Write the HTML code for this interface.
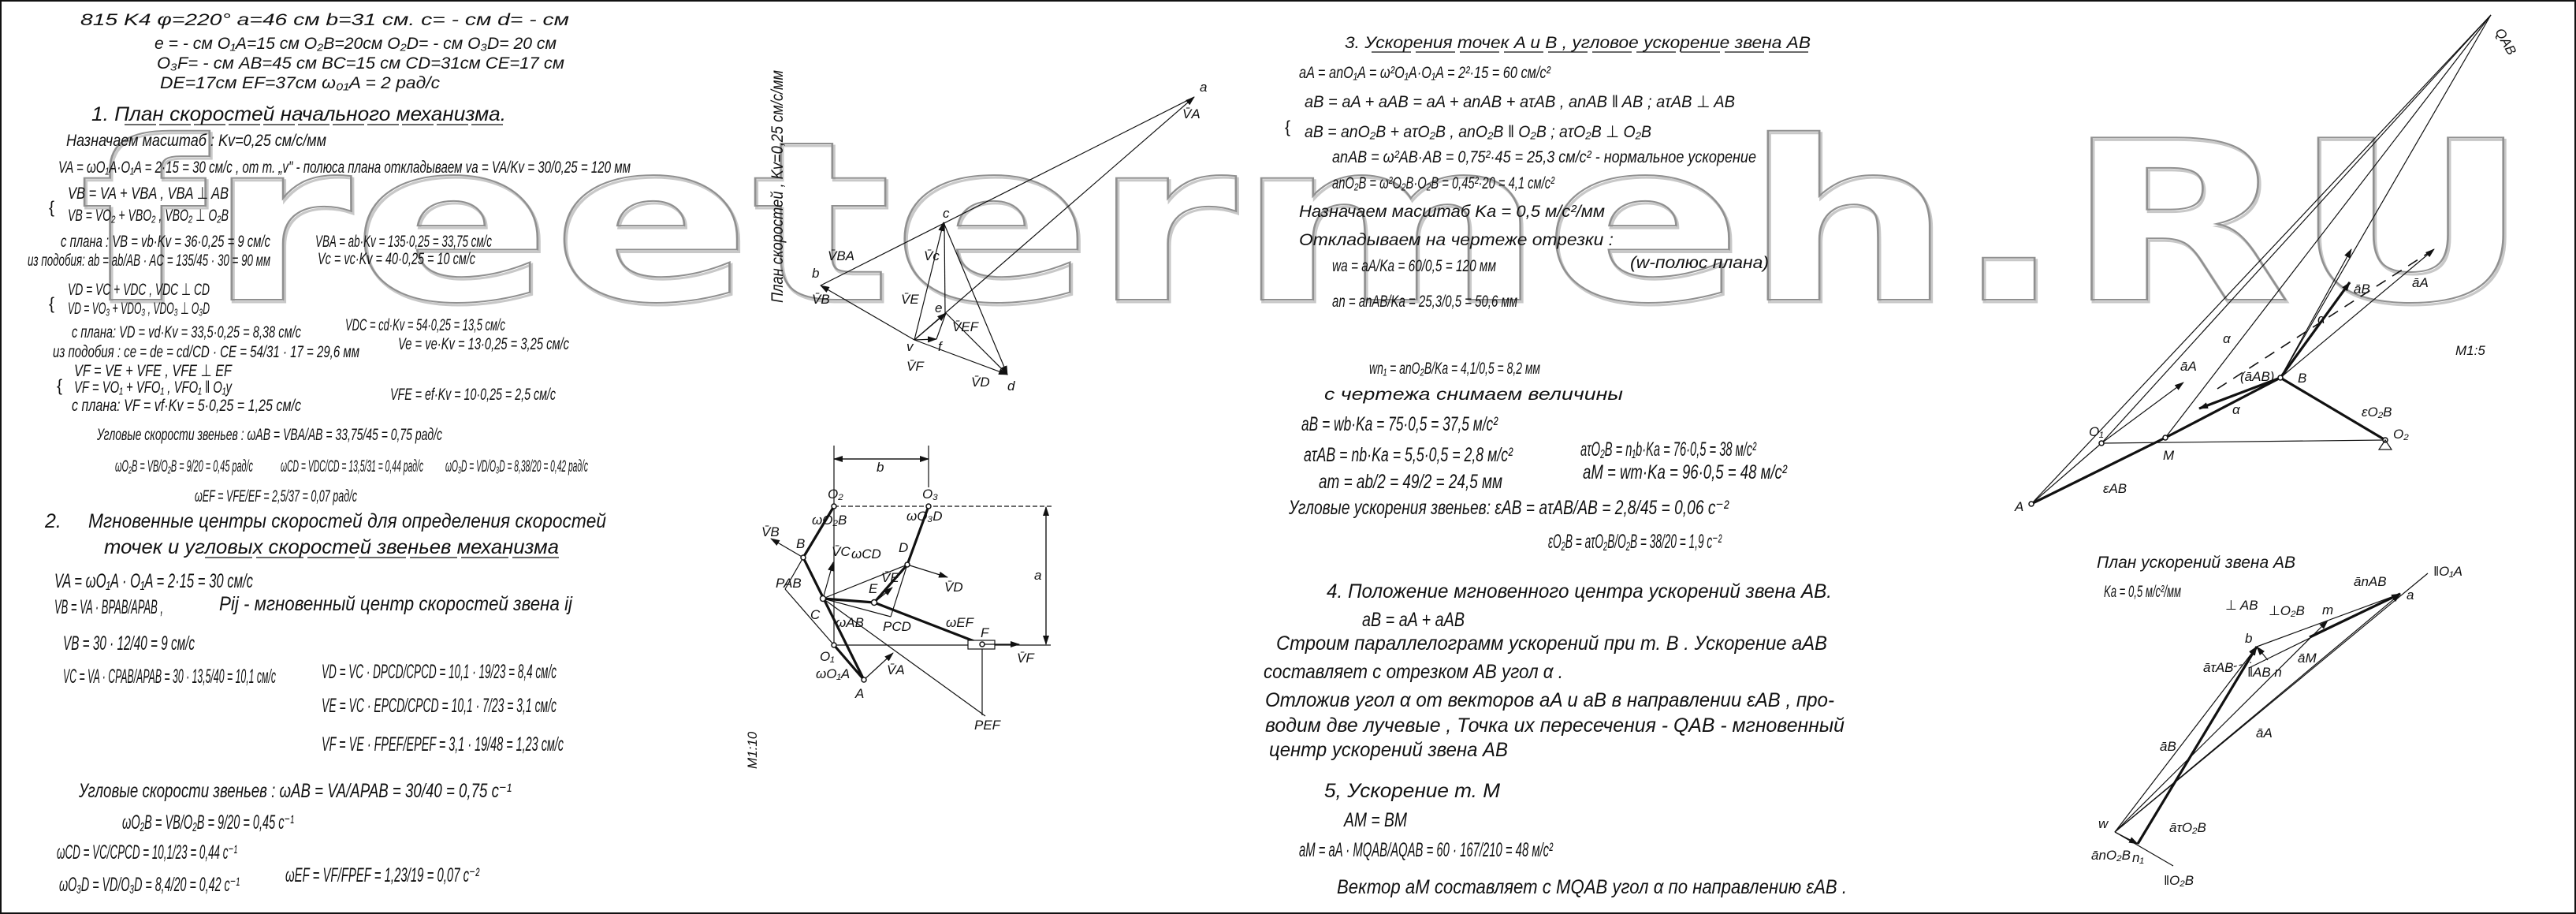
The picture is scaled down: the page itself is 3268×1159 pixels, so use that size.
<!DOCTYPE html>
<html><head><meta charset="utf-8">
<style>
html,body{margin:0;padding:0;background:#fff;}
svg{display:block;}
.t{font-family:"Liberation Sans","DejaVu Sans",sans-serif;font-style:italic;fill:#111;font-size:21px;}
.h{font-size:25px;}
.s{font-size:17px;}
.th{stroke:#111;stroke-width:1.2;fill:none;}
.tk{stroke:#111;stroke-width:3.2;fill:none;}
.ds{stroke:#111;stroke-width:1.6;fill:none;stroke-dasharray:14 10;}
.wm{font-family:"DejaVu Sans","Liberation Sans",sans-serif;font-weight:bold;font-size:282px;fill:none;}
</style></head>
<body>
<svg width="3268" height="1159" viewBox="0 0 3268 1159" xmlns="http://www.w3.org/2000/svg">
<defs>
<marker id="ar" markerWidth="12" markerHeight="8" refX="11" refY="4" orient="auto" markerUnits="userSpaceOnUse">
<path d="M0,0 L12,4 L0,8 z" fill="#111"/></marker>
</defs>
<rect x="0" y="0" width="3268" height="1159" fill="#fff"/>
<rect x="1" y="1" width="3266" height="1157" fill="none" stroke="#111" stroke-width="2"/>

<!-- watermark -->
<text class="wm" x="102" y="383" textLength="3110" lengthAdjust="spacingAndGlyphs" stroke="#c8c8c8" stroke-width="3">freetermeh.RU</text>
<text class="wm" x="100" y="380" textLength="3110" lengthAdjust="spacingAndGlyphs" stroke="#909090" stroke-width="2">freetermeh.RU</text>

<!-- LEFT COLUMN -->
<text class="t" x="102" y="32" textLength="620" lengthAdjust="spacingAndGlyphs">815 K4      φ=220°      a=46 см      b=31 см.     c= - см      d= - см</text>
<text class="t" x="196" y="62" textLength="510" lengthAdjust="spacingAndGlyphs">e = - см     O₁A=15 см    O₂B=20см    O₂D= - см   O₃D= 20 см</text>
<text class="t" x="199" y="87" textLength="517" lengthAdjust="spacingAndGlyphs">O₃F= - см     AB=45 см    BC=15 см    CD=31см    CE=17 см</text>
<text class="t" x="203" y="112" textLength="355" lengthAdjust="spacingAndGlyphs">DE=17см      EF=37см       ω₀₁A = 2 рад/с</text>
<text class="t h" x="116" y="153" textLength="526" lengthAdjust="spacingAndGlyphs">1.   План скоростей  начального  механизма.</text>
<line class="th" x1="158" y1="158" x2="640" y2="158" stroke-dasharray="40 4"/>
<text class="t" x="84" y="185" textLength="330" lengthAdjust="spacingAndGlyphs">Назначаем  масштаб :  Kv=0,25 см/с/мм</text>
<text class="t" x="74" y="219" textLength="726" lengthAdjust="spacingAndGlyphs">VA = ωO₁A·O₁A = 2·15 = 30 см/с ,  от т. „v" - полюса плана откладываем va = VA/Kv = 30/0,25 = 120 мм</text>
<text class="t" x="62" y="270" font-size="52" style="font-style:normal">{</text>
<text class="t" x="86" y="252" textLength="204" lengthAdjust="spacingAndGlyphs">VB = VA + VBA ,   VBA ⊥ AB</text>
<text class="t" x="86" y="280" textLength="204" lengthAdjust="spacingAndGlyphs">VB = VO₂ + VBO₂ ,  VBO₂ ⊥ O₂B</text>
<text class="t" x="77" y="313" textLength="266" lengthAdjust="spacingAndGlyphs">с плана : VB = vb·Kv = 36·0,25 = 9 см/с</text>
<text class="t" x="400" y="313" textLength="224" lengthAdjust="spacingAndGlyphs">VBA = ab·Kv = 135·0,25 = 33,75 см/с</text>
<text class="t" x="35" y="337" textLength="308" lengthAdjust="spacingAndGlyphs">из подобия: ab = ab/AB · AC = 135/45 · 30 = 90 мм</text>
<text class="t" x="403" y="335" textLength="200" lengthAdjust="spacingAndGlyphs">Vc = vc·Kv = 40·0,25 = 10 см/с</text>
<text class="t" x="62" y="392" font-size="52" style="font-style:normal">{</text>
<text class="t" x="86" y="374" textLength="180" lengthAdjust="spacingAndGlyphs">VD = VC + VDC ,   VDC ⊥ CD</text>
<text class="t" x="86" y="398" textLength="180" lengthAdjust="spacingAndGlyphs">VD = VO₃ + VDO₃ ,  VDO₃ ⊥ O₃D</text>
<text class="t" x="438" y="419" textLength="203" lengthAdjust="spacingAndGlyphs">VDC = cd·Kv = 54·0,25 = 13,5 см/с</text>
<text class="t" x="91" y="428" textLength="291" lengthAdjust="spacingAndGlyphs">с плана:  VD = vd·Kv = 33,5·0,25 = 8,38 см/с</text>
<text class="t" x="505" y="443" textLength="217" lengthAdjust="spacingAndGlyphs">Ve = ve·Kv = 13·0,25 = 3,25 см/с</text>
<text class="t" x="67" y="453" textLength="389" lengthAdjust="spacingAndGlyphs">из подобия :  ce = de = cd/CD · CE = 54/31 · 17 = 29,6 мм</text>
<text class="t" x="72" y="496" font-size="52" style="font-style:normal">{</text>
<text class="t" x="94" y="477" textLength="200" lengthAdjust="spacingAndGlyphs">VF = VE + VFE ,   VFE ⊥ EF</text>
<text class="t" x="94" y="498" textLength="200" lengthAdjust="spacingAndGlyphs">VF = VO₁ + VFO₁ ,  VFO₁ ‖ O₁y</text>
<text class="t" x="495" y="507" textLength="210" lengthAdjust="spacingAndGlyphs">VFE = ef·Kv = 10·0,25 = 2,5 см/с</text>
<text class="t" x="91" y="521" textLength="291" lengthAdjust="spacingAndGlyphs">с плана:  VF = vf·Kv = 5·0,25 = 1,25 см/с</text>
<text class="t" x="123" y="558" textLength="438" lengthAdjust="spacingAndGlyphs">Угловые скорости звеньев : ωAB = VBA/AB = 33,75/45 = 0,75 рад/с</text>
<text class="t" x="146" y="598" textLength="175" lengthAdjust="spacingAndGlyphs">ωO₂B = VB/O₂B = 9/20 = 0,45 рад/с</text>
<text class="t" x="356" y="598" textLength="181" lengthAdjust="spacingAndGlyphs">ωCD = VDC/CD = 13,5/31 = 0,44 рад/с</text>
<text class="t" x="565" y="598" textLength="181" lengthAdjust="spacingAndGlyphs">ωO₃D = VD/O₃D = 8,38/20 = 0,42 рад/с</text>
<text class="t" x="247" y="636" textLength="206" lengthAdjust="spacingAndGlyphs">ωEF = VFE/EF = 2,5/37 = 0,07 рад/с</text>
<text class="t h" x="57" y="669">2.</text>
<text class="t h" x="112" y="669" textLength="657" lengthAdjust="spacingAndGlyphs">Мгновенные центры скоростей для определения скоростей</text>
<text class="t h" x="132" y="702" textLength="577" lengthAdjust="spacingAndGlyphs">точек   и   угловых скоростей звеньев механизма</text>
<line class="th" x1="260" y1="707" x2="709" y2="707" stroke-dasharray="60 5"/>
<text class="t h" x="69" y="745" textLength="252" lengthAdjust="spacingAndGlyphs">VA = ωO₁A · O₁A = 2·15 = 30 см/с</text>
<text class="t h" x="69" y="778" textLength="138" lengthAdjust="spacingAndGlyphs">VB = VA · BPAB/APAB ,</text>
<text class="t h" x="278" y="774" textLength="448" lengthAdjust="spacingAndGlyphs">Pij - мгновенный центр скоростей звена ij</text>
<text class="t h" x="80" y="824" textLength="167" lengthAdjust="spacingAndGlyphs">VB = 30 · 12/40 = 9 см/с</text>
<text class="t h" x="80" y="866" textLength="270" lengthAdjust="spacingAndGlyphs">VC = VA · CPAB/APAB = 30 · 13,5/40 = 10,1 см/с</text>
<text class="t h" x="408" y="860" textLength="298" lengthAdjust="spacingAndGlyphs">VD = VC · DPCD/CPCD = 10,1 · 19/23 = 8,4 см/с</text>
<text class="t h" x="408" y="903" textLength="298" lengthAdjust="spacingAndGlyphs">VE = VC · EPCD/CPCD = 10,1 · 7/23 = 3,1 см/с</text>
<text class="t h" x="408" y="952" textLength="307" lengthAdjust="spacingAndGlyphs">VF = VE · FPEF/EPEF = 3,1 · 19/48 = 1,23 см/с</text>
<text class="t h" x="100" y="1011" textLength="549" lengthAdjust="spacingAndGlyphs">Угловые скорости звеньев : ωAB = VA/APAB = 30/40 = 0,75 c⁻¹</text>
<text class="t h" x="155" y="1051" textLength="218" lengthAdjust="spacingAndGlyphs">ωO₂B = VB/O₂B = 9/20 = 0,45 c⁻¹</text>
<text class="t h" x="72" y="1089" textLength="229" lengthAdjust="spacingAndGlyphs">ωCD = VC/CPCD = 10,1/23 = 0,44 c⁻¹</text>
<text class="t h" x="362" y="1118" textLength="246" lengthAdjust="spacingAndGlyphs">ωEF = VF/FPEF = 1,23/19 = 0,07 c⁻²</text>
<text class="t h" x="75" y="1130" textLength="229" lengthAdjust="spacingAndGlyphs">ωO₃D = VD/O₃D = 8,4/20 = 0,42 c⁻¹</text>

<!-- VELOCITY PLAN -->
<text class="t" transform="translate(993,384) rotate(-90)" textLength="295" lengthAdjust="spacingAndGlyphs">План   скоростей ,     Kv=0,25 см/с/мм</text>
<line class="th" x1="1041" y1="362" x2="1515" y2="123"/>
<line class="th" x1="1160" y1="431" x2="1515" y2="123" marker-end="url(#ar)"/>
<line class="th" x1="1160" y1="431" x2="1041" y2="362" marker-end="url(#ar)"/>
<line class="th" x1="1160" y1="431" x2="1278" y2="475" marker-end="url(#ar)"/>
<line class="th" x1="1160" y1="431" x2="1197" y2="282" marker-end="url(#ar)"/>
<line class="th" x1="1197" y1="282" x2="1278" y2="475" marker-end="url(#ar)"/>
<line class="th" x1="1198" y1="282" x2="1199" y2="397"/>
<line class="th" x1="1160" y1="431" x2="1200" y2="397" marker-end="url(#ar)" stroke-width="2"/>
<line class="th" x1="1200" y1="397" x2="1278" y2="475"/>
<line class="th" x1="1160" y1="431" x2="1188" y2="430" marker-end="url(#ar)" stroke-width="2"/>
<line class="th" x1="1188" y1="430" x2="1200" y2="397"/>
<text class="t s" x="1522" y="116">a</text>
<text class="t s" x="1500" y="150">V̄A</text>
<text class="t s" x="1196" y="276">c</text>
<text class="t s" x="1172" y="330">V̄c</text>
<text class="t s" x="1143" y="385">V̄E</text>
<text class="t s" x="1186" y="396">e</text>
<text class="t s" x="1208" y="420">V̄EF</text>
<text class="t s" x="1190" y="445">f</text>
<text class="t s" x="1150" y="445">v</text>
<text class="t s" x="1150" y="470">V̄F</text>
<text class="t s" x="1232" y="490">V̄D</text>
<text class="t s" x="1278" y="495">d</text>
<text class="t s" x="1030" y="352">b</text>
<text class="t s" x="1030" y="385">V̄B</text>
<text class="t s" x="1050" y="330">V̄BA</text>

<!-- MECHANISM -->
<line class="th" x1="1058" y1="565" x2="1058" y2="818"/>
<line class="th" x1="1178" y1="565" x2="1178" y2="618"/>
<line class="th" x1="1058" y1="582" x2="1178" y2="582" marker-end="url(#ar)"/>
<line class="th" x1="1178" y1="582" x2="1058" y2="582" marker-end="url(#ar)"/>
<text class="t s" x="1112" y="598">b</text>
<line class="th" x1="1058" y1="642" x2="1337" y2="642" stroke-dasharray="6 3"/>
<line class="th" x1="1058" y1="818" x2="1333" y2="818"/>
<line class="th" x1="1327" y1="643" x2="1327" y2="817" marker-end="url(#ar)"/>
<line class="th" x1="1327" y1="817" x2="1327" y2="643" marker-end="url(#ar)"/>
<text class="t s" x="1312" y="735">a</text>
<line class="tk" x1="1058" y1="642" x2="1019" y2="707"/>
<line class="tk" x1="1019" y1="707" x2="1096" y2="862"/>
<line class="tk" x1="1058" y1="818" x2="1096" y2="862"/>
<line class="tk" x1="1044" y1="759" x2="1109" y2="764"/>
<line class="tk" x1="1109" y1="764" x2="1246" y2="817"/>
<line class="tk" x1="1109" y1="764" x2="1151" y2="716"/>
<line class="tk" x1="1151" y1="716" x2="1178" y2="642"/>
<line class="th" x1="1044" y1="759" x2="1151" y2="716"/>
<line class="th" x1="996" y1="747" x2="1019" y2="707"/>
<line class="th" x1="996" y1="747" x2="1058" y2="818"/>
<line class="th" x1="1130" y1="782" x2="1151" y2="716"/>
<line class="th" x1="1044" y1="759" x2="1130" y2="782"/>
<line class="th" x1="1044" y1="759" x2="1250" y2="908"/>
<line class="th" x1="1246" y1="822" x2="1246" y2="907"/>
<rect x="1228" y="812" width="34" height="11" fill="#fff" stroke="#111" stroke-width="1.2"/>
<line class="th" x1="1019" y1="707" x2="978" y2="683" marker-end="url(#ar)"/>
<line class="th" x1="1044" y1="759" x2="1057" y2="713" marker-end="url(#ar)"/>
<line class="th" x1="1096" y1="862" x2="1133" y2="828" marker-end="url(#ar)"/>
<line class="th" x1="1151" y1="716" x2="1202" y2="732" marker-end="url(#ar)"/>
<line class="th" x1="1109" y1="764" x2="1132" y2="745" marker-end="url(#ar)"/>
<line class="th" x1="1246" y1="817" x2="1293" y2="817" marker-end="url(#ar)" stroke-width="2"/>
<g fill="#fff" stroke="#111" stroke-width="1.5">
<circle cx="1058" cy="642" r="3"/><circle cx="1178" cy="642" r="3"/><circle cx="1019" cy="707" r="3"/>
<circle cx="1044" cy="759" r="3.5"/><circle cx="1109" cy="764" r="3.5"/><circle cx="1151" cy="716" r="3"/>
<circle cx="1058" cy="818" r="3"/><circle cx="1096" cy="862" r="3"/><circle cx="1246" cy="817" r="3"/>
</g>
<text class="t s" x="1050" y="632">O₂</text><text class="t s" x="1170" y="632">O₃</text>
<text class="t s" x="1010" y="695">B</text><text class="t s" x="1028" y="785">C</text>
<text class="t s" x="1140" y="700">D</text><text class="t s" x="1102" y="752">E</text>
<text class="t s" x="1040" y="838">O₁</text><text class="t s" x="1085" y="885">A</text>
<text class="t s" x="1244" y="808">F</text><text class="t s" x="984" y="745">PAB</text>
<text class="t s" x="1120" y="800">PCD</text><text class="t s" x="1236" y="925">PEF</text>
<text class="t s" x="966" y="680">V̄B</text><text class="t s" x="1055" y="705">V̄C</text>
<text class="t s" x="1118" y="738">V̄E</text><text class="t s" x="1198" y="750">V̄D</text>
<text class="t s" x="1290" y="840">V̄F</text><text class="t s" x="1125" y="855">V̄A</text>
<text class="t s" x="1030" y="665">ωO₂B</text><text class="t s" x="1080" y="708">ωCD</text>
<text class="t s" x="1150" y="660">ωO₃D</text><text class="t s" x="1060" y="795">ωAB</text>
<text class="t s" x="1200" y="795">ωEF</text><text class="t s" x="1035" y="860">ωO₁A</text>
<text class="t s" transform="translate(960,975) rotate(-90)">M1:10</text>

<!-- TOP MIDDLE TEXT -->
<text class="t" x="1706" y="61" textLength="591" lengthAdjust="spacingAndGlyphs">3.   Ускорения точек A и B , угловое ускорение звена AB</text>
<line class="th" x1="1740" y1="66" x2="2297" y2="66" stroke-dasharray="50 6"/>
<text class="t" x="1648" y="99" textLength="319" lengthAdjust="spacingAndGlyphs">aA = anO₁A = ω²O₁A·O₁A = 2²·15 = 60 см/с²</text>
<text class="t" x="1630" y="168" font-size="62" style="font-style:normal">{</text>
<text class="t" x="1655" y="136" textLength="546" lengthAdjust="spacingAndGlyphs">aB = aA + aAB = aA + anAB + aτAB ,   anAB ‖ AB ;  aτAB ⊥ AB</text>
<text class="t" x="1655" y="174" textLength="440" lengthAdjust="spacingAndGlyphs">aB = anO₂B + aτO₂B ,    anO₂B ‖ O₂B ;  aτO₂B ⊥ O₂B</text>
<text class="t" x="1690" y="206" textLength="538" lengthAdjust="spacingAndGlyphs">anAB = ω²AB·AB = 0,75²·45 = 25,3 см/с² - нормальное ускорение</text>
<text class="t" x="1690" y="239" textLength="282" lengthAdjust="spacingAndGlyphs">anO₂B = ω²O₂B·O₂B = 0,45²·20 = 4,1 см/с²</text>
<text class="t" x="1648" y="275" textLength="388" lengthAdjust="spacingAndGlyphs">Назначаем   масштаб   Ka = 0,5 м/с²/мм</text>
<text class="t" x="1648" y="311" textLength="399" lengthAdjust="spacingAndGlyphs">Откладываем   на чертеже   отрезки :</text>
<text class="t" x="1690" y="344" textLength="208" lengthAdjust="spacingAndGlyphs">wa = aA/Ka = 60/0,5 = 120 мм</text>
<text class="t" x="2068" y="340" textLength="176" lengthAdjust="spacingAndGlyphs">(w-полюс плана)</text>
<text class="t" x="1690" y="389" textLength="235" lengthAdjust="spacingAndGlyphs">an = anAB/Ka = 25,3/0,5 = 50,6 мм</text>

<!-- BOTTOM MIDDLE TEXT -->
<text class="t" x="1737" y="474" textLength="217" lengthAdjust="spacingAndGlyphs">wn₁ = anO₂B/Ka = 4,1/0,5 = 8,2 мм</text>
<text class="t" x="1680" y="507" textLength="379" lengthAdjust="spacingAndGlyphs">с  чертежа   снимаем   величины</text>
<text class="t h" x="1651" y="546" textLength="249" lengthAdjust="spacingAndGlyphs">aB = wb·Ka = 75·0,5 = 37,5 м/с²</text>
<text class="t h" x="1654" y="585" textLength="265" lengthAdjust="spacingAndGlyphs">aτAB = nb·Ka = 5,5·0,5 = 2,8 м/с²</text>
<text class="t h" x="2005" y="578" textLength="223" lengthAdjust="spacingAndGlyphs">aτO₂B = n₁b·Ka = 76·0,5 = 38 м/с²</text>
<text class="t h" x="1673" y="619" textLength="233" lengthAdjust="spacingAndGlyphs">am = ab/2 = 49/2 = 24,5 мм</text>
<text class="t h" x="2008" y="607" textLength="259" lengthAdjust="spacingAndGlyphs">aM = wm·Ka = 96·0,5 = 48 м/с²</text>
<text class="t h" x="1635" y="652" textLength="558" lengthAdjust="spacingAndGlyphs">Угловые ускорения звеньев:    εAB = aτAB/AB = 2,8/45  = 0,06 c⁻²</text>
<text class="t h" x="1964" y="695" textLength="220" lengthAdjust="spacingAndGlyphs">εO₂B = aτO₂B/O₂B = 38/20 = 1,9 c⁻²</text>
<text class="t h" x="1683" y="758" textLength="641" lengthAdjust="spacingAndGlyphs">4.    Положение мгновенного центра ускорений звена AB.</text>
<text class="t h" x="1728" y="794" textLength="130" lengthAdjust="spacingAndGlyphs">aB = aA + aAB</text>
<text class="t h" x="1619" y="824" textLength="699" lengthAdjust="spacingAndGlyphs">Строим  параллелограмм  ускорений  при  т. B .  Ускорение  aAB</text>
<text class="t h" x="1603" y="860" textLength="380" lengthAdjust="spacingAndGlyphs">составляет  с  отрезком  AB  угол  α .</text>
<text class="t h" x="1605" y="896" textLength="722" lengthAdjust="spacingAndGlyphs">Отложив   угол α от  векторов  aA и aB  в направлении εAB , про-</text>
<text class="t h" x="1605" y="928" textLength="735" lengthAdjust="spacingAndGlyphs">водим  две  лучевые ,  Точка  их  пересечения - QAB - мгновенный</text>
<text class="t h" x="1610" y="959" textLength="303" lengthAdjust="spacingAndGlyphs">центр  ускорений  звена  AB</text>
<text class="t h" x="1680" y="1011" textLength="223" lengthAdjust="spacingAndGlyphs">5,   Ускорение  т. М</text>
<text class="t h" x="1705" y="1048" textLength="80" lengthAdjust="spacingAndGlyphs">AM = BM</text>
<text class="t h" x="1648" y="1086" textLength="322" lengthAdjust="spacingAndGlyphs">aM = aA · MQAB/AQAB = 60 · 167/210 = 48 м/с²</text>
<text class="t h" x="1696" y="1133" textLength="647" lengthAdjust="spacingAndGlyphs">Вектор  aM  составляет с   MQAB  угол α  по направлению εAB .</text>

<!-- ACCELERATION MECHANISM -->
<line class="th" x1="2577" y1="639" x2="3160" y2="19"/>
<line class="th" x1="2666" y1="562" x2="3160" y2="19"/>
<line class="th" x1="2747" y1="555" x2="3160" y2="19"/>
<line class="th" x1="2893" y1="479" x2="3160" y2="19"/>
<line class="th" x1="2893" y1="479" x2="3088" y2="316" marker-end="url(#ar)"/>
<line class="th" x1="2893" y1="479" x2="2983" y2="316" marker-end="url(#ar)"/>
<line class="tk" x1="2893" y1="479" x2="2981" y2="358" marker-end="url(#ar)"/>
<line class="ds" x1="2813" y1="493" x2="3088" y2="316"/>
<line class="th" x1="2666" y1="562" x2="2770" y2="485" marker-end="url(#ar)" stroke-width="1.6"/>
<line class="th" x1="2577" y1="639" x2="2666" y2="562"/>
<line class="th" x1="2666" y1="562" x2="3026" y2="558"/>
<line class="tk" x1="2577" y1="639" x2="2747" y2="555"/>
<line class="tk" x1="2747" y1="555" x2="2893" y2="479"/>
<line class="tk" x1="2893" y1="479" x2="3026" y2="558"/>
<line class="tk" x1="2893" y1="479" x2="2790" y2="518" marker-end="url(#ar)" stroke-width="2.5"/>
<g fill="#fff" stroke="#111" stroke-width="1.5">
<circle cx="2577" cy="639" r="3"/><circle cx="2666" cy="562" r="3"/><circle cx="2747" cy="555" r="3"/>
<circle cx="2893" cy="479" r="3"/><circle cx="3026" cy="558" r="3"/></g>
<path d="M3026,558 l-8,12 h16 z" fill="none" stroke="#111" stroke-width="1.2"/>
<text class="t s" x="3165" y="40" transform="rotate(60 3165 40)">QAB</text>
<text class="t s" x="2766" y="470">āA</text>
<text class="t s" x="2842" y="483">(āAB)</text>
<text class="t s" x="2915" y="485">B</text>
<text class="t s" x="2832" y="525">α</text>
<text class="t s" x="2650" y="553">O₁</text>
<text class="t s" x="2744" y="583">M</text>
<text class="t s" x="2668" y="625">εAB</text>
<text class="t s" x="2556" y="648">A</text>
<text class="t s" x="3036" y="556">O₂</text>
<text class="t s" x="2996" y="528">εO₂B</text>
<text class="t s" x="2986" y="372">āB</text>
<text class="t s" x="3060" y="364">āA</text>
<text class="t s" x="2940" y="410">α</text>
<text class="t s" x="2820" y="435">α</text>
<text class="t s" x="3115" y="450">M1:5</text>

<!-- ACCELERATION PLAN -->
<text class="t" x="2660" y="720" textLength="252" lengthAdjust="spacingAndGlyphs">План  ускорений  звена AB</text>
<text class="t" x="2669" y="757" textLength="98" lengthAdjust="spacingAndGlyphs">Ka = 0,5 м/с²/мм</text>
<text class="t s" x="2823" y="773">⊥ AB</text>
<text class="t s" x="2878" y="780">⊥O₂B</text>
<line class="th" x1="2683" y1="1055" x2="3080" y2="727"/>
<line class="th" x1="2683" y1="1055" x2="3045" y2="753" marker-end="url(#ar)"/>
<line class="th" x1="2683" y1="1055" x2="2863" y2="820" marker-end="url(#ar)"/>
<line class="th" x1="2683" y1="1055" x2="2953" y2="787" marker-end="url(#ar)"/>
<line class="th" x1="2683" y1="1055" x2="2757" y2="1098"/>
<line class="th" x1="2683" y1="1055" x2="2712" y2="1070" marker-end="url(#ar)" stroke-width="1.6"/>
<line class="tk" x1="2712" y1="1070" x2="2863" y2="820" marker-end="url(#ar)" stroke-width="2.4"/>
<line class="th" x1="2863" y1="820" x2="3045" y2="753"/>
<line class="tk" x1="2930" y1="808" x2="3045" y2="753" marker-end="url(#ar)" stroke-width="2.4"/>
<line class="th" x1="2853" y1="847" x2="3045" y2="753"/>
<line class="th" x1="2877" y1="837" x2="2863" y2="820" marker-end="url(#ar)" stroke-width="1.8"/>
<line class="th" x1="2827" y1="847" x2="2856" y2="840" stroke-dasharray="4 3"/>
<text class="t s" x="2946" y="779">m</text>
<text class="t s" x="2986" y="743">ānAB</text>
<text class="t s" x="3053" y="760">a</text>
<text class="t s" x="3087" y="730">‖O₁A</text>
<text class="t s" x="2848" y="815">b</text>
<text class="t s" x="2795" y="852">āτAB</text>
<text class="t s" x="2851" y="858">‖AB n</text>
<text class="t s" x="2915" y="840">āM</text>
<text class="t s" x="2740" y="952">āB</text>
<text class="t s" x="2862" y="935">āA</text>
<text class="t s" x="2752" y="1055">āτO₂B</text>
<text class="t s" x="2662" y="1050">w</text>
<text class="t s" x="2653" y="1090">ānO₂B</text>
<text class="t s" x="2705" y="1093">n₁</text>
<text class="t s" x="2745" y="1122">‖O₂B</text>
</svg>
</body></html>
